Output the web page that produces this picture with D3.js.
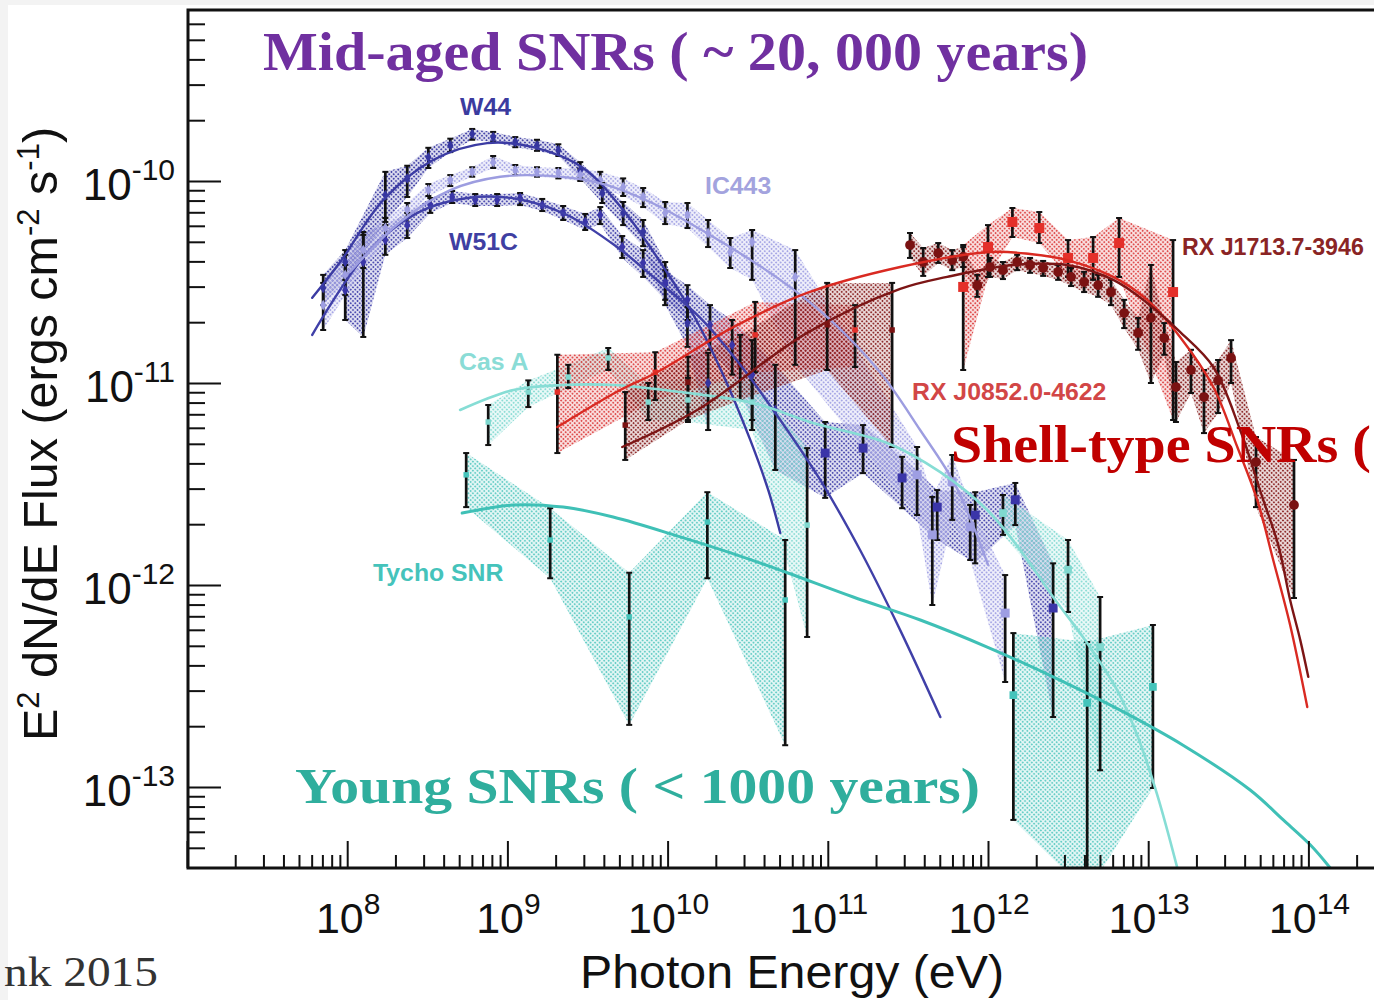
<!DOCTYPE html>
<html><head><meta charset="utf-8">
<script src="https://cdn.jsdelivr.net/npm/d3@7"></script>
<style>
html,body{margin:0;padding:0;background:#f3f3f3;overflow:hidden;}
svg{display:block;}
</style></head><body>
<svg id="c" width="1374" height="1000"></svg>
<script>
// ---------------- data ----------------
const xTickExponents = [8, 9, 10, 11, 12, 13, 14];
const yTickExponents = [-13, -12, -11, -10];

// model curves [E (eV), E^2 dN/dE]
const w44Curve = [[6.05e7,2.64e-11],[9.04e7,3.97e-11],[1.68e8,8.05e-11],[3.44e8,1.27e-10],[7.48e8,1.54e-10],[1.45e9,1.47e-10],[2.97e9,1.16e-10],[5.28e9,7.18e-11],[8.99e9,3.97e-11],[1.45e10,2.17e-11],[2.22e10,1.10e-11],[3.28e10,5.23e-12],[4.25e10,2.95e-12],[5.05e10,1.81e-12]];
const w51cCurve = [[6.05e7,1.73e-11],[1.33e8,4.40e-11],[2.74e8,6.95e-11],[5.61e8,8.24e-11],[1.15e9,8.15e-11],[2.36e9,6.79e-11],[4.84e9,4.71e-11],[8.99e9,3.13e-11],[1.60e10,2.10e-11],[2.84e10,1.23e-11],[5.05e10,6.56e-12],[8.97e10,3.31e-12],[1.59e11,1.49e-12],[2.83e11,5.98e-13],[5.04e11,2.22e-13]];
const ic443Curve = [[1.04e8,3.55e-11],[2.14e8,6.27e-11],[4.40e8,9.02e-11],[9.02e8,1.05e-10],[1.85e9,1.06e-10],[3.79e9,9.77e-11],[7.78e9,7.87e-11],[1.93e10,5.28e-11],[5.05e10,3.24e-11],[1.04e11,2.05e-11],[2.12e11,1.13e-11],[3.77e11,5.85e-12],[6.24e11,3.13e-12],[1.00e12,1.26e-12]];
const casACurve = [[5.07e8,7.35e-12],[1.09e9,9.23e-12],[2.23e9,9.77e-12],[4.57e9,9.77e-12],[1.20e10,9.02e-12],[3.42e10,7.96e-12],[8.11e10,6.34e-12],[2.35e11,5.05e-12],[5.04e11,3.62e-12],[9.89e11,2.35e-12],[1.59e12,1.49e-12],[2.55e12,8.72e-13],[4.16e12,5.16e-13],[6.40e12,3.02e-13],[8.53e12,1.81e-13],[1.14e13,9.12e-14],[1.52e13,3.97e-14]];
const tychoCurve = [[5.22e8,2.27e-12],[1.09e9,2.49e-12],[2.23e9,2.43e-12],[4.57e9,2.17e-12],[1.20e10,1.73e-12],[2.84e10,1.39e-12],[5.58e10,1.15e-12],[1.44e11,8.72e-13],[3.78e11,6.71e-13],[9.89e11,4.93e-13],[2.55e12,3.51e-13],[6.68e12,2.40e-13],[1.65e13,1.61e-13],[4.33e13,9.66e-14],[6.97e13,6.87e-14],[1.03e14,5.16e-14],[1.37e14,3.97e-14]];
const j0852Curve = [[2.05e9,6.05e-12],[5.06e9,9.23e-12],[8.61e9,1.13e-11],[2.57e10,1.89e-11],[7.43e10,2.79e-11],[2.83e11,3.75e-11],[1.03e12,4.45e-11],[1.83e12,4.35e-11],[3.12e12,4.06e-11],[6.05e12,3.35e-11],[9.86e12,2.58e-11],[1.58e13,1.69e-11],[2.55e13,9.55e-12],[3.60e13,4.82e-12],[4.79e13,2.64e-12],[6.03e13,1.33e-12],[7.69e13,6.34e-13],[9.84e13,2.49e-13]];
const j1713Curve = [[5.21e9,4.82e-12],[1.53e10,7.35e-12],[7.43e10,1.77e-11],[2.83e11,2.92e-11],[5.56e11,3.35e-11],[1.44e12,3.84e-11],[3.12e12,3.84e-11],[6.05e12,3.24e-11],[9.86e12,2.49e-11],[1.58e13,1.79e-11],[2.55e13,1.20e-11],[3.75e13,5.85e-12],[5.15e13,2.73e-12],[6.48e13,1.58e-12],[7.69e13,8.43e-13],[8.89e13,5.35e-13],[9.98e13,3.51e-13]];

// measured points [E, flux, flux low, flux high]
const w44Points = [[7.08e7,2.95e-11,2.43e-11,3.43e-11],[9.72e7,3.97e-11,3.24e-11,4.55e-11],[1.73e8,8.52e-11,6.27e-11,1.11e-10],[2.37e8,1.03e-10,8.33e-11,1.19e-10],[3.21e8,1.31e-10,1.16e-10,1.46e-10],[4.40e8,1.50e-10,1.39e-10,1.62e-10],[6.03e8,1.71e-10,1.60e-10,1.81e-10],[8.15e8,1.65e-10,1.56e-10,1.75e-10],[1.12e9,1.56e-10,1.47e-10,1.65e-10],[1.53e9,1.50e-10,1.41e-10,1.60e-10],[2.08e9,1.42e-10,1.33e-10,1.52e-10],[2.85e9,1.13e-10,1.03e-10,1.24e-10],[3.91e9,8.72e-11,7.78e-11,9.77e-11],[5.28e9,6.95e-11,6.05e-11,7.87e-11],[7.04e9,5.59e-11,4.76e-11,6.41e-11],[9.66e9,3.13e-11,2.43e-11,3.97e-11],[1.33e10,1.98e-11,1.51e-11,2.38e-11],[1.79e10,1.00e-11,5.85e-12,1.41e-11]];
const w51cPoints = [[9.72e7,2.88e-11,2.05e-11,3.84e-11],[1.26e8,3.97e-11,1.69e-11,5.59e-11],[1.73e8,5.10e-11,4.31e-11,6.05e-11],[2.37e8,6.05e-11,5.22e-11,6.95e-11],[3.30e8,7.60e-11,6.95e-11,8.24e-11],[4.52e8,8.33e-11,7.78e-11,8.92e-11],[6.30e8,8.05e-11,7.52e-11,8.62e-11],[8.63e8,8.05e-11,7.52e-11,8.62e-11],[1.20e9,8.24e-11,7.60e-11,8.72e-11],[1.65e9,7.60e-11,7.10e-11,8.15e-11],[2.23e9,6.95e-11,6.41e-11,7.52e-11],[3.06e9,6.27e-11,5.72e-11,6.87e-11],[3.80e9,6.79e-11,6.12e-11,7.43e-11],[5.21e9,4.71e-11,4.16e-11,5.34e-11],[7.04e9,3.93e-11,3.35e-11,4.55e-11],[9.66e9,3.13e-11,2.58e-11,3.62e-11],[1.33e10,2.58e-11,2.05e-11,3.05e-11],[1.84e10,1.94e-11,1.46e-11,2.43e-11],[2.53e10,1.54e-11,1.10e-11,2.05e-11],[3.37e10,1.10e-11,6.56e-12,1.63e-11],[4.70e10,7.35e-12,3.71e-12,1.23e-11],[9.63e10,4.50e-12,2.70e-12,6.41e-12],[1.66e11,4.76e-12,3.58e-12,6.19e-12],[2.91e11,3.39e-12,2.40e-12,4.31e-12],[4.82e11,2.43e-12,1.67e-12,2.95e-12],[8.32e11,2.22e-12,1.28e-12,2.88e-12],[1.48e12,2.64e-12,1.98e-12,3.20e-12],[2.55e12,7.69e-13,2.22e-13,1.28e-12]];
const ic443Points = [[7.08e7,2.43e-11,1.83e-11,3.13e-11],[9.72e7,3.43e-11,2.73e-11,4.31e-11],[1.26e8,4.55e-11,3.71e-11,5.41e-11],[1.73e8,5.85e-11,5.10e-11,6.56e-11],[2.37e8,7.18e-11,6.56e-11,7.78e-11],[3.21e8,9.02e-11,8.43e-11,9.66e-11],[4.40e8,1.01e-10,9.44e-11,1.07e-10],[6.03e8,1.11e-10,1.05e-10,1.17e-10],[8.15e8,1.24e-10,1.16e-10,1.33e-10],[1.12e9,1.13e-10,1.07e-10,1.20e-10],[1.53e9,1.11e-10,1.05e-10,1.17e-10],[2.08e9,1.10e-10,1.03e-10,1.16e-10],[2.85e9,1.07e-10,1.00e-10,1.15e-10],[3.80e9,1.01e-10,9.23e-11,1.11e-10],[5.28e9,9.34e-11,8.43e-11,1.03e-10],[7.04e9,8.33e-11,7.43e-11,9.23e-11],[9.66e9,6.95e-11,6.12e-11,7.87e-11],[1.33e10,6.79e-11,5.85e-11,7.78e-11],[1.79e10,5.53e-11,4.71e-11,6.41e-11],[2.46e10,4.45e-11,3.71e-11,5.22e-11],[3.37e10,4.99e-11,3.24e-11,5.72e-11],[6.26e10,3.35e-11,1.23e-11,4.55e-11],[3.61e11,3.51e-12,2.22e-12,4.82e-12],[4.49e11,1.77e-12,7.96e-13,2.73e-12],[5.98e11,3.24e-12,2.10e-12,4.40e-12],[7.74e11,1.94e-12,1.33e-12,2.49e-12],[1.28e12,7.26e-13,3.31e-13,1.12e-12]];
const casAFermi = [[7.59e8,6.41e-12,4.93e-12,7.78e-12],[1.35e9,9.02e-12,7.60e-12,1.03e-11],[2.40e9,1.07e-11,9.44e-12,1.23e-11],[4.26e9,1.33e-11,1.16e-11,1.49e-11],[7.57e9,8.05e-12,6.56e-12,1.00e-11],[1.34e10,8.24e-12,6.41e-12,1.06e-11],[3.37e10,8.05e-12,5.85e-12,1.03e-11],[7.43e10,1.98e-12,5.53e-13,4.76e-12]];
const casAVHE = [[1.24e12,2.27e-12,1.77e-12,2.79e-12],[3.16e12,1.19e-12,7.35e-13,1.67e-12],[5.01e12,4.93e-13,1.21e-13,8.72e-13]];
const tychoFermi = [[5.53e8,3.51e-12,2.43e-12,4.50e-12],[1.85e9,1.67e-12,1.08e-12,2.40e-12],[5.76e9,6.95e-13,2.03e-13,1.15e-12],[1.77e10,2.05e-12,1.08e-12,2.88e-12],[5.42e10,8.43e-13,1.61e-13,1.67e-12]];
const tychoVHE = [[1.44e12,2.85e-13,6.87e-14,5.78e-13],[4.16e12,2.61e-13,3.0e-14,5.22e-13],[1.07e13,3.13e-13,9.89e-14,6.34e-13]];
const j0852Fermi = [[2.05e9,9.02e-12,4.50e-12,1.38e-11],[8.37e9,1.13e-11,8.24e-12,1.42e-11],[3.52e10,1.73e-11,1.13e-11,2.52e-11],[1.48e11,1.83e-11,1.20e-11,2.43e-11]];
const j0852HESS = [[7.00e11,2.99e-11,1.16e-11,4.82e-11],[1.00e12,4.71e-11,3.35e-11,6.05e-11],[1.42e12,6.27e-11,5.28e-11,7.35e-11],[2.09e12,5.85e-11,4.93e-11,7.02e-11],[3.16e12,4.16e-11,3.35e-11,5.10e-11],[4.53e12,4.16e-11,3.24e-11,5.28e-11],[6.58e12,4.93e-11,3.35e-11,6.56e-11],[1.43e13,2.82e-11,6.56e-12,5.10e-11]];
const j1713Fermi = [[5.44e9,6.19e-12,4.16e-12,9.02e-12],[1.34e10,1.01e-11,6.56e-12,1.35e-11],[2.84e10,1.23e-11,8.24e-12,1.73e-11],[9.91e10,1.94e-11,1.16e-11,3.13e-11],[2.52e11,1.83e-11,4.82e-12,3.13e-11]];
const j1713HESS = [[3.26e11,4.82e-11,4.16e-11,5.53e-11],[3.94e11,3.97e-11,3.39e-11,4.66e-11],[4.89e11,4.40e-11,3.93e-11,4.93e-11],[5.98e11,4.06e-11,3.62e-11,4.55e-11],[7.00e11,4.21e-11,3.75e-11,4.71e-11],[8.57e11,3.05e-11,2.67e-11,3.43e-11],[1.03e12,3.75e-11,3.35e-11,4.16e-11],[1.24e12,3.62e-11,3.27e-11,3.97e-11],[1.52e12,3.97e-11,3.62e-11,4.31e-11],[1.83e12,3.84e-11,3.51e-11,4.16e-11],[2.21e12,3.71e-11,3.39e-11,4.02e-11],[2.74e12,3.55e-11,3.24e-11,3.84e-11],[3.30e12,3.35e-11,3.02e-11,3.71e-11],[3.98e12,3.16e-11,2.82e-11,3.55e-11],[4.87e12,3.05e-11,2.67e-11,3.43e-11],[5.86e12,2.82e-11,2.43e-11,3.24e-11],[7.08e12,2.22e-11,1.87e-11,2.58e-11],[8.65e12,1.77e-11,1.46e-11,2.10e-11],[1.04e13,2.10e-11,1.00e-11,3.84e-11],[1.26e13,1.67e-11,1.38e-11,1.98e-11],[1.49e13,9.55e-12,6.41e-12,1.27e-11],[1.85e13,1.16e-11,8.92e-12,1.46e-11],[2.23e13,8.52e-12,5.65e-12,1.16e-11],[2.73e13,1.03e-11,7.10e-12,1.30e-11],[3.29e13,1.33e-11,1.00e-11,1.63e-11],[4.71e13,4.06e-12,2.43e-12,5.40e-12],[8.13e13,2.49e-12,8.62e-13,4.16e-12]];

// ---------------- setup ----------------
(function(){
const svg = d3.select('#c');
svg.append('rect').attr('x',8).attr('y',5).attr('width',1366).attr('height',995).attr('fill','#fff');

const pL = 187, pT = 10, pB = 868, pR = 1374;
const x = d3.scaleLog().domain([1e7, 1e14]).range([pL, pL + 7*160.2]);
const y = d3.scaleLog().domain([1e-13, 1e-10]).range([787, 181]);

const defs = svg.append('defs');
defs.append('clipPath').attr('id','plot').append('rect')
  .attr('x',pL+1).attr('y',pT+1).attr('width',pR-pL+20).attr('height',pB-pT-2);
function pattern(id, color){
  const p = defs.append('pattern').attr('id',id).attr('patternUnits','userSpaceOnUse')
    .attr('width',3.2).attr('height',3.2).attr('patternTransform','rotate(45)');
  p.append('rect').attr('width',3.2).attr('height',3.2).attr('fill',color).attr('opacity',0.15);
  p.append('circle').attr('cx',1.6).attr('cy',1.6).attr('r',1.05).attr('fill',color).attr('opacity',0.9);
  return `url(#${id})`;
}

const series = [
  {pts:[w44Points], curve:w44Curve, band:'#3636a2', line:'#3b3ba3', mk:'#3535a0', lw:2.4},
  {pts:[w51cPoints], curve:w51cCurve, band:'#4040aa', line:'#4040a8', mk:'#3a35a8', lw:2.4},
  {pts:[ic443Points], curve:ic443Curve, band:'#a0a0e4', line:'#9d9de0', mk:'#9e9ee2', lw:2.4},
  {pts:[casAFermi, casAVHE], curve:casACurve, band:'#84dbd3', line:'#86ddd5', mk:'#7fd8cf', lw:2.6},
  {pts:[tychoFermi, tychoVHE], curve:tychoCurve, band:'#5ccac2', line:'#3fc0b6', mk:'#45c4bb', lw:3},
  {pts:[j0852Fermi, j0852HESS], curve:j0852Curve, band:'#dd4040', line:'#d92a22', mk:'#e4302a', lw:2.4},
  {pts:[j1713Fermi, j1713HESS], curve:j1713Curve, band:'#851c1c', line:'#7c1515', mk:'#7a1212', lw:2.4}
];
series.forEach((s,i)=>{ s.fill = pattern('p'+i, s.band); });

const plot = svg.append('g').attr('clip-path','url(#plot)');
const gBands = plot.append('g'), gErr = plot.append('g'), gMk = plot.append('g'), gCurves = plot.append('g');

const area = d3.area().x(d=>x(d[0])).y0(d=>y(d[2])).y1(d=>y(d[3]));
const line = d3.line().x(d=>x(d[0])).y(d=>y(d[1])).curve(d3.curveCatmullRom.alpha(0.5));

series.forEach((s,i)=>{
  s.pts.forEach((seg,k)=>{
    gBands.append('path').attr('d', area(seg)).attr('fill', s.fill).attr('stroke','none');
    seg.forEach(d=>{
      const cx = x(d[0]), y0 = y(d[2]), y1 = y(d[3]);
      gErr.append('line').attr('x1',cx).attr('x2',cx).attr('y1',y0).attr('y2',y1)
        .attr('stroke','#111').attr('stroke-width',2.7);
      [y0,y1].forEach(yy=>gErr.append('line').attr('x1',cx-3).attr('x2',cx+3).attr('y1',yy).attr('y2',yy)
        .attr('stroke','#111').attr('stroke-width',2));
    });
    gMk.selectAll(null).data(seg).enter().append('path')
      .attr('transform', d=>`translate(${x(d[0])},${y(d[1])})`)
      .attr('d', d=>{
        let t = d3.symbolSquare, sz = 30;
        if (i<=2) { t = d3.symbolDiamond; sz = 34; }
        if ((i===1 || i===2) && d[0] > 8e10) { t = d3.symbolSquare; sz = 80; }
        if (i===5 && k===1) { t = d3.symbolSquare; sz = 100; }
        if (i===6 && k===1) { t = d3.symbolCircle; sz = 75; }
        if ((i===3 || i===4) && k===1) { t = d3.symbolSquare; sz = 60; }
        return d3.symbol().type(t).size(sz)();
      })
      .attr('fill', s.mk);
  });
  gCurves.append('path').attr('d', line(s.curve)).attr('fill','none')
    .attr('stroke', s.line).attr('stroke-width', s.lw).attr('stroke-linecap','round');
});

// ---------------- axes ----------------
const minorX = [], minorY = [];
for (let e=7; e<=14; e++) for (let m=2; m<=9; m++){ const v=m*Math.pow(10,e); if (x(v) < pR) minorX.push(v); }
for (let e=-14; e<=-10; e++) for (let m=2; m<=9; m++){ const v=m*Math.pow(10,e); const p=y(v); if (p>pT+2 && p<pB-2) minorY.push(v); }
const majorX = d3.range(7,15).map(e=>Math.pow(10,e));
const majorY = yTickExponents.map(e=>Math.pow(10,e));

function styleAxis(g){ g.select('.domain').remove(); g.selectAll('line').attr('stroke','#111').attr('stroke-width',2); g.selectAll('text').remove(); }
svg.append('g').attr('transform',`translate(0,${pB})`).call(d3.axisBottom(x).tickValues(minorX).tickSize(-13).tickFormat('')).call(styleAxis);
svg.append('g').attr('transform',`translate(0,${pB})`).call(d3.axisBottom(x).tickValues(majorX).tickSize(-27).tickFormat('')).call(styleAxis);
svg.append('g').attr('transform',`translate(${pL+1},0)`).call(d3.axisLeft(y).tickValues(minorY).tickSize(-17).tickFormat('')).call(styleAxis);
svg.append('g').attr('transform',`translate(${pL+1},0)`).call(d3.axisLeft(y).tickValues(majorY).tickSize(-33).tickFormat('')).call(styleAxis);

// frame
svg.append('path').attr('d',`M${pR+5},${pT}H${pL+1}V${pB}H${pR+5}`)
  .attr('stroke','#111').attr('stroke-width',3).attr('fill','none');

const sans = 'Liberation Sans, Arial, Helvetica, sans-serif';
xTickExponents.forEach(e=>{
  const t = svg.append('text').attr('x', x(Math.pow(10,e))+1).attr('y', 933)
    .attr('text-anchor','middle').attr('font-family',sans).attr('font-size',43).attr('fill','#111');
  t.append('tspan').text('10');
  t.append('tspan').attr('dy',-19).attr('font-size',30).text(e);
});
yTickExponents.forEach(e=>{
  const t = svg.append('text').attr('x', 175).attr('y', y(Math.pow(10,e))+19)
    .attr('text-anchor','end').attr('font-family',sans).attr('font-size',44).attr('fill','#111');
  t.append('tspan').text('10');
  t.append('tspan').attr('dy',-20).attr('font-size',30).text(e);
});

// axis titles
svg.append('text').attr('x',792).attr('y',988).attr('text-anchor','middle')
  .attr('font-family',sans).attr('font-size',46).attr('fill','#111')
  .attr('textLength',424).attr('lengthAdjust','spacingAndGlyphs').text('Photon Energy (eV)');
const yt = svg.append('text').attr('transform','translate(57,434) rotate(-90)').attr('text-anchor','middle')
  .attr('font-family',sans).attr('font-size',48.5).attr('fill','#111');
yt.append('tspan').text('E');
yt.append('tspan').attr('dy',-18).attr('font-size',31).text('2');
yt.append('tspan').attr('dy',18).text(' dN/dE Flux (ergs cm');
yt.append('tspan').attr('dy',-18).attr('font-size',31).text('-2');
yt.append('tspan').attr('dy',18).text(' s');
yt.append('tspan').attr('dy',-18).attr('font-size',31).text('-1');
yt.append('tspan').attr('dy',18).text(')');

// source labels
const labels = [
  {t:'W44', x:460, y:115, c:'#3b3b9f', s:24.8},
  {t:'IC443', x:705, y:194, c:'#a3a3de', s:24.8},
  {t:'W51C', x:449, y:250, c:'#3f3fa2', s:24.8},
  {t:'Cas A', x:459, y:370, c:'#8adcd6', s:24.8},
  {t:'Tycho SNR', x:373, y:581, c:'#45c3bb', s:24.8},
  {t:'RX J0852.0-4622', x:912, y:400, c:'#d24646', s:24.8},
  {t:'RX J1713.7-3946', x:1182, y:255, c:'#8a2424', s:23.2}
];
labels.forEach(l=>svg.append('text').attr('x',l.x).attr('y',l.y).attr('font-family',sans)
  .attr('font-weight','bold').attr('font-size',l.s).attr('fill',l.c).text(l.t));

// headings
const serif = 'Liberation Serif, DejaVu Serif, serif';
svg.append('text').attr('x',263).attr('y',70).attr('font-family',serif).attr('font-weight','bold')
  .attr('font-size',54).attr('fill','#7030a0').attr('textLength',825).attr('lengthAdjust','spacingAndGlyphs')
  .text('Mid-aged SNRs ( ~ 20, 000 years)');
svg.append('text').attr('x',295).attr('y',803).attr('font-family',serif).attr('font-weight','bold')
  .attr('font-size',51).attr('fill','#2fae9d').attr('textLength',685).attr('lengthAdjust','spacingAndGlyphs')
  .text('Young SNRs ( < 1000 years)');
svg.append('text').attr('x',951).attr('y',462).attr('font-family',serif).attr('font-weight','bold')
  .attr('font-size',52).attr('fill','#c00000').attr('textLength',420).attr('lengthAdjust','spacingAndGlyphs')
  .text('Shell-type SNRs (');
svg.append('text').attr('x',4).attr('y',986).attr('font-family',serif)
  .attr('font-size',42).attr('fill','#333').attr('textLength',154).attr('lengthAdjust','spacingAndGlyphs')
  .text('nk 2015');
})();
</script>
</body></html>
